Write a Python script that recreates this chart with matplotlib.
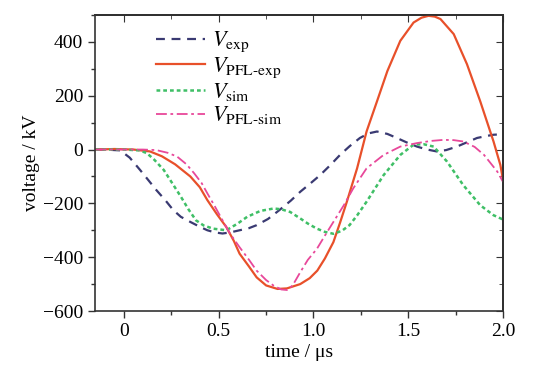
import matplotlib
matplotlib.use("Agg")
import matplotlib.pyplot as plt
from matplotlib.ticker import MultipleLocator

plt.rcParams['font.family'] = ['Liberation Serif', 'DejaVu Serif']
plt.rcParams['mathtext.fontset'] = 'stix'

# V_exp (experimental, dashed navy)
t_exp = [-0.15, -0.10, -0.05, -0.02, 0.03, 0.085, 0.13, 0.17, 0.22, 0.26, 0.30, 0.35, 0.40, 0.44, 0.48,
         0.52, 0.56, 0.61, 0.66, 0.70, 0.76, 0.82, 0.88, 0.93, 0.985, 1.035, 1.09, 1.14, 1.19, 1.245,
         1.29, 1.335, 1.39, 1.44, 1.49, 1.546, 1.60, 1.65, 1.70, 1.757, 1.81, 1.863, 1.91, 1.95, 2.0]
v_exp = [0, 0, -2, -3, -30, -76, -115, -150, -190, -225, -250, -269, -287, -300, -308,
         -312, -308, -300, -292, -281, -258, -225, -190, -157, -125, -95, -57, -20, 12, 43,
         60, 67, 58, 43, 27, 11, 0, -7, -2, 11, 27, 43, 50, 55, 57]

# V_PFL-exp (experimental, solid red)
t_pfl = [-0.15, -0.05, 0.05, 0.137, 0.20, 0.27, 0.35, 0.40, 0.44, 0.49, 0.54, 0.58, 0.61, 0.66, 0.70,
         0.75, 0.81, 0.86, 0.93, 0.98, 1.02, 1.06, 1.105, 1.14, 1.176, 1.23, 1.28, 1.335, 1.39, 1.458,
         1.528, 1.57, 1.607, 1.64, 1.67, 1.74, 1.81, 1.88, 1.95, 1.986, 2.0]
v_pfl = [0, 2, 0, -7, -25, -55, -100, -140, -188, -240, -288, -340, -387, -435, -475,
         -505, -518, -516, -500, -478, -450, -405, -344, -272, -194, -70, 67, 179, 292, 404,
         472, 490, 497, 494, 485, 429, 317, 179, 30, -57, -113]

# V_sim (simulated, dotted green)
t_sim = [-0.15, 0.0, 0.08, 0.12, 0.16, 0.21, 0.25, 0.30, 0.34, 0.38, 0.42, 0.47, 0.54, 0.60, 0.65,
         0.72, 0.79, 0.83, 0.877, 0.93, 0.97, 1.018, 1.06, 1.105, 1.15, 1.19, 1.23, 1.28, 1.37, 1.458,
         1.528, 1.58, 1.634, 1.705, 1.79, 1.88, 1.95, 2.0]
v_sim = [0, 0, -3, -13, -38, -76, -120, -175, -222, -263, -282, -294, -300, -275, -250,
         -228, -219, -222, -232, -256, -275, -294, -306, -313, -302, -281, -245, -194, -95, -20,
         18, 20, 11, -45, -132, -207, -244, -260]

# V_PFL-sim (simulated, dash-dot magenta)
t_pfs = [-0.15, 0.0, 0.10, 0.17, 0.23, 0.28, 0.33, 0.37, 0.41, 0.44, 0.48, 0.52, 0.56, 0.61, 0.66,
         0.70, 0.75, 0.79, 0.83, 0.86, 0.89, 0.93, 0.97, 1.018, 1.06, 1.105, 1.16, 1.21, 1.28, 1.37,
         1.458, 1.546, 1.62, 1.687, 1.74, 1.79, 1.85, 1.90, 1.97, 2.0]
v_pfs = [0, 0, 0, -2, -12, -26, -55, -88, -125, -163, -212, -263, -313, -363, -410,
         -450, -485, -506, -520, -522, -505, -456, -410, -369, -320, -269, -207, -144, -70, -20,
         11, 24, 32, 36, 35, 30, 10, -20, -82, -120]

fig = plt.figure(figsize=(5.51, 3.71), dpi=100)
ax = fig.add_axes([95/551, 1 - 311/371, (503 - 95)/551, (311 - 15)/371])

ax.plot(t_exp, v_exp, color='#3a3a72', lw=1.6, ls=(0, (4, 3)), label=r'$V_{\rm exp}$')
ax.plot(t_pfl, v_pfl, color='#e8502a', lw=1.6, ls='-', label=r'$V_{\rm PFL\text{-}exp}$')
ax.plot(t_sim, v_sim, color='#3fbf66', lw=1.8, ls=(0, (1.5, 1.2)), label=r'$V_{\rm sim}$')
ax.plot(t_pfs, v_pfs, color='#e8489a', lw=1.3, ls=(0, (6, 2, 1.5, 2)), label=r'$V_{\rm PFL\text{-}sim}$')

ax.set_xlim(-0.153, 2.0)
ax.set_ylim(-600, 500)
ax.xaxis.set_minor_locator(MultipleLocator(0.25))
ax.yaxis.set_minor_locator(MultipleLocator(100))
ax.set_xticks([0, 0.5, 1.0, 1.5, 2.0])
ax.set_xticklabels(['0', '0.5', '1.0', '1.5', '2.0'])
ax.set_yticks([-600, -400, -200, 0, 200, 400])
ax.set_yticklabels(['\u2212600', '\u2212400', '\u2212200', '0', '200', '400'])

ax.tick_params(which='both', direction='out', top=False, right=False, labelsize=14, width=1, color='#333333')
ax.tick_params(which='major', length=5)
ax.tick_params(which='minor', length=3)
# inward mirrored ticks on top and right
sec_x = ax.secondary_xaxis('top')
sec_x.set_xticks([0, 0.5, 1.0, 1.5, 2.0])
sec_x.xaxis.set_minor_locator(MultipleLocator(0.25))
sec_x.tick_params(which='both', direction='in', labeltop=False, color='#333333')
sec_x.tick_params(which='major', length=5)
sec_x.tick_params(which='minor', length=3)
sec_y = ax.secondary_yaxis('right')
sec_y.set_yticks([-600, -400, -200, 0, 200, 400])
sec_y.yaxis.set_minor_locator(MultipleLocator(100))
sec_y.tick_params(which='both', direction='in', labelright=False, color='#333333')
sec_y.tick_params(which='major', length=5)
sec_y.tick_params(which='minor', length=3)
for s in ax.spines.values():
    s.set_linewidth(1.2)
    s.set_color('#333333')
sec_x.spines['top'].set_linewidth(1.2)
sec_y.spines['right'].set_linewidth(1.2)

ax.set_xlabel('time / \u03bcs', fontsize=14, labelpad=3)
ax.set_ylabel('voltage / kV', fontsize=14, labelpad=2)

leg = ax.legend(loc='upper left', bbox_to_anchor=(156/551, 1 - 30/371), bbox_transform=fig.transFigure,
                frameon=False, fontsize=16, borderpad=0, borderaxespad=0,
                handlelength=2.2, labelspacing=0.05, handletextpad=0.3)

fig.savefig('out.png', dpi=100)
